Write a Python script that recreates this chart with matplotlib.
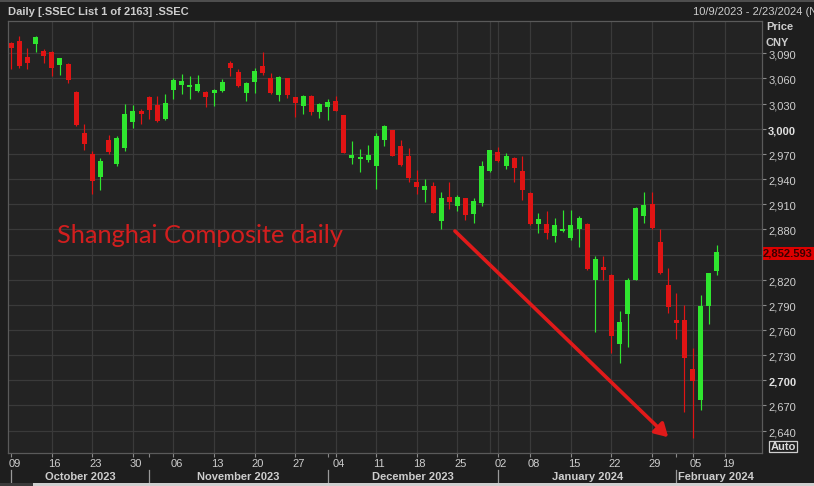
import numpy as np
import matplotlib
matplotlib.use('Agg')
import matplotlib.pyplot as plt
from matplotlib.patches import Rectangle
from matplotlib.transforms import ScaledTranslation, blended_transform_factory

plt.rcParams['font.family'] = ['Liberation Sans', 'DejaVu Sans']

# ---- data: SSEC daily candles, 9 Oct 2023 .. 8 Feb 2024 (trading-day index) ----
opens = [3102, 3105, 3086, 3101, 3093, 3092, 3076, 3077, 3044, 2995,
         2970, 2943, 2987, 2958, 2977, 3008, 3021, 3037.5, 3028, 3012,
         3046, 3052, 3050, 3045, 3044, 3043, 3045, 3078, 3068, 3043,
         3056, 3075, 3060, 3040, 3060, 3037.5, 3027.5, 3039, 3020, 3026,
         3033, 3016, 2965.5, 2964, 2963, 2955, 2986, 2998, 2979, 2967,
         2937, 2927, 2932, 2890, 2919, 2908, 2917, 2898, 2911, 2950,
         2972.6, 2955.6, 2965.5, 2950, 2923, 2886, 2886, 2872, 2878.4, 2870,
         2880, 2886, 2820, 2835, 2826, 2743, 2779, 2820, 2896, 2910,
         2865, 2814, 2772, 2772, 2713, 2676, 2788.5, 2830]
highs = [3104, 3111, 3096, 3111, 3095, 3093, 3085, 3078, 3045, 3006,
         2973, 2965, 2993, 2991, 3030, 3028, 3024, 3039, 3039, 3041,
         3060, 3065, 3063, 3064, 3045, 3048, 3059, 3081, 3071, 3056,
         3072, 3091, 3067, 3063, 3061, 3038, 3040, 3040, 3031, 3035,
         3039, 3017, 2985, 2976, 2981, 2995, 3004, 2999, 2987, 2977,
         2951, 2940, 2937, 2924, 2936, 2921, 2918, 2917, 2962, 2975,
         2978, 2971, 2966, 2968, 2924, 2899, 2902, 2894, 2903, 2903,
         2896, 2887, 2848, 2848, 2827, 2783, 2822, 2906.5, 2924, 2924,
         2880, 2833.5, 2804, 2790, 2738, 2802, 2828, 2861]
lows = [3071, 3072, 3071, 3092, 3079, 3063, 3064, 3055, 3003, 2975,
        2922, 2927, 2970, 2955, 2974, 3001, 3006, 3012, 3008, 3011,
        3036, 3041.5, 3036, 3044, 3026, 3027, 3044, 3063, 3050, 3033,
        3043, 3064, 3042, 3033, 3037, 3014, 3018, 3016, 3013, 3010,
        3021, 2970.5, 2958, 2948, 2960.5, 2928, 2979, 2967, 2956, 2937,
        2922, 2913, 2899, 2881, 2904, 2902, 2891, 2888, 2908, 2949,
        2960, 2952, 2936, 2915, 2885, 2876, 2869, 2865, 2877, 2867,
        2859, 2832, 2758, 2820, 2732, 2721, 2740, 2819, 2888, 2881,
        2827, 2780, 2749, 2662, 2631, 2665, 2767, 2825.5]
closes = [3096, 3075, 3079, 3109, 3087, 3073, 3084, 3058, 3004.5, 2982,
          2938, 2962, 2972, 2989, 3018, 3021.5, 3018, 3022, 3009, 3031,
          3058, 3057, 3052, 3053, 3038, 3046, 3056, 3072, 3050.5, 3055,
          3069, 3066, 3043, 3062, 3040, 3031, 3039, 3020, 3029.5, 3031.6,
          3021.5, 2971.5, 2968.7, 2966.5, 2969, 2991, 3003, 2968, 2957, 2941,
          2930, 2932, 2900, 2917, 2913, 2919, 2897, 2914, 2955, 2974.6,
          2961, 2967, 2953, 2927, 2886, 2892, 2876, 2885, 2880.5, 2885,
          2894, 2832.5, 2845, 2831, 2753, 2770, 2820, 2906, 2909, 2882,
          2828, 2787, 2768, 2727, 2699, 2788, 2827.6, 2852.6]

week_tick_idx = [0, 5, 10, 15, 20, 25, 30, 35, 40, 45, 50, 55, 60, 64, 69, 74, 79, 84, 88]
week_tick_labels = ['09', '16', '23', '30', '06', '13', '20', '27', '04', '11',
                    '18', '25', '02', '08', '15', '22', '29', '05', '19']
grid_idx = [5, 10, 15, 20, 25, 30, 35, 40, 45, 50, 55, 59, 60, 64, 69, 74, 79, 84, 88]
month_start_idx = [0, 17, 39, 60, 82]
month_labels = ['October 2023', 'November 2023', 'December 2023', 'January 2024', 'February 2024']
price_ticks = list(range(2640, 3091, 30))
hidden_tick_labels = [2850]          # covered by the last-price marker
bold_ticks = [3000, 2700]
last_price_text = '2,852.593'
arrow_from = (54.7, 2878)
arrow_to = (81.0, 2632)

# ---- style ----
W, H = 814, 486
BG = '#1e1e1e'
AXBG = '#232323'
GRID = '#3a3a3a'
FRAME = '#5a5a5a'
TXT = '#cdcdcd'
UP = '#2fe62f'
DOWN = '#e01414'

fig = plt.figure(figsize=(W / 100, H / 100), dpi=100, facecolor=BG)

def fx(px):
    return px / W

def fy(py):
    return 1 - py / H

ax = fig.add_axes([fx(7.7), fy(453), (762 - 7.7) / W, (453 - 21.3) / H])
ax.set_facecolor(AXBG)
ax.set_xlim(-0.44, 92.56)
ax.set_ylim(2613.2, 3128.2)

# grid
ax.set_yticks(price_ticks)
ax.yaxis.grid(True, color=GRID, lw=0.9)
for g in grid_idx:
    ax.axvline(g, color=GRID, lw=0.9, zorder=0.5)
ax.set_axisbelow(True)

for s in ax.spines.values():
    s.set_color(FRAME)
    s.set_linewidth(0.9)

# candles
o = np.array(opens); h = np.array(highs); l = np.array(lows); c = np.array(closes)
x = np.arange(len(o))
cols = np.where(c > o, UP, DOWN)
ax.vlines(x, l, h, colors=cols, lw=0.85, zorder=2)
bottoms = np.minimum(o, c)
heights = np.maximum(np.abs(c - o), 1.8)
ax.bar(x, heights, bottom=bottoms, width=0.62, color=cols, linewidth=0, zorder=3)

# y axis on the right
ax.yaxis.tick_right()
ax.set_yticklabels(['' if v in hidden_tick_labels else f'{v:,}' for v in price_ticks])
ax.tick_params(axis='y', direction='out', length=3, width=0.8, color='#8a8a8a',
               pad=1.5, labelsize=8, labelcolor=TXT)
for lab, v in zip(ax.get_yticklabels(), price_ticks):
    lab.set_transform(lab.get_transform() + ScaledTranslation(0, -1.5 / 100, fig.dpi_scale_trans))
    if v in bold_ticks:
        lab.set_fontweight('bold')
        lab.set_color('#e0e0e0')

# x axis
ax.set_xticks(week_tick_idx)
ax.set_xticklabels(week_tick_labels)
ax.set_xticks([m for m in month_start_idx if m not in week_tick_idx], minor=True)
ax.tick_params(axis='x', which='both', direction='out', length=3, width=0.8,
               color='#8a8a8a', pad=1.5, labelsize=8, labelcolor=TXT)
for lab in ax.get_xticklabels():
    lab.set_transform(lab.get_transform() + ScaledTranslation(3 / 100, 0, fig.dpi_scale_trans))

trans = blended_transform_factory(ax.transData, ax.transAxes)
for i, (m, name) in enumerate(zip(month_start_idx, month_labels)):
    ax.plot([m, m], [-0.039, -0.072], transform=trans, color='#9a9a9a', lw=0.9, clip_on=False)
    if i + 1 < len(month_start_idx):
        cx = (m + month_start_idx[i + 1]) / 2
        ax.text(cx, -0.0556, name, transform=trans, ha='center', va='center',
                fontsize=8, fontweight='bold', color=TXT, clip_on=False)
    else:
        ax.text(m + 0.15, -0.0556, name, transform=trans, ha='left', va='center',
                fontsize=8, fontweight='bold', color=TXT, clip_on=False)

# annotation arrow and label
ax.annotate('', xy=arrow_to, xytext=arrow_from,
            arrowprops=dict(arrowstyle='-|>,head_length=0.55,head_width=0.32',
                            color='#e01a1a', lw=2.6, shrinkA=0, shrinkB=0, mutation_scale=14),
            annotation_clip=False, zorder=4)
fig.text(fx(56.5), fy(243.3), 'Shanghai Composite daily', fontsize=18.3, family='Lato',
         color='#d21e1e', va='baseline', ha='left')

# header
fig.patches.append(Rectangle((0, fy(2.5)), 1, 2.5 / H, transform=fig.transFigure,
                             facecolor='#4e4e4e', edgecolor='none', zorder=1))
fig.text(fx(8), fy(12), 'Daily [.SSEC List 1 of 2163] .SSEC', fontsize=8, fontweight='bold',
         color=TXT, va='center', ha='left')
fig.text(fx(693), fy(12), '10/9/2023 - 2/23/2024 (N', fontsize=8,
         color=TXT, va='center', ha='left')
fig.text(fx(766), fy(27.5), 'Price', fontsize=8, fontweight='bold', color=TXT, va='center', ha='left')
fig.text(fx(766), fy(42.5), 'CNY', fontsize=8, fontweight='bold', color=TXT, va='center', ha='left')

# last price marker
fig.patches.append(Rectangle((fx(762.5), fy(260)), (W - 762.5) / W, 13.3 / H,
                             transform=fig.transFigure, facecolor='#dc0000',
                             edgecolor='none', zorder=5))
fig.text(fx(763), fy(253.5), last_price_text, fontsize=8, fontweight='bold',
         color='#3a0000', va='center', ha='left', zorder=6)

# Auto box
fig.patches.append(Rectangle((fx(769), fy(452.3)), 27.7 / W, 11.6 / H,
                             transform=fig.transFigure, facecolor='none',
                             edgecolor='#cfcfcf', lw=0.9, zorder=5))
fig.text(fx(783), fy(446.7), 'Auto', fontsize=8, fontweight='bold', color='#dcdcdc',
         va='center', ha='center', zorder=6)

# bottom scroll strip
fig.patches.append(Rectangle((fx(33), 0), 1, 3.5 / H, transform=fig.transFigure,
                             facecolor='#cfcfcf', edgecolor='none', zorder=1))
fig.patches.append(Rectangle((0, 0), fx(33), 3.5 / H, transform=fig.transFigure,
                             facecolor='#3a3a3a', edgecolor='none', zorder=1))

fig.savefig('out.png', dpi=100, facecolor=BG)
